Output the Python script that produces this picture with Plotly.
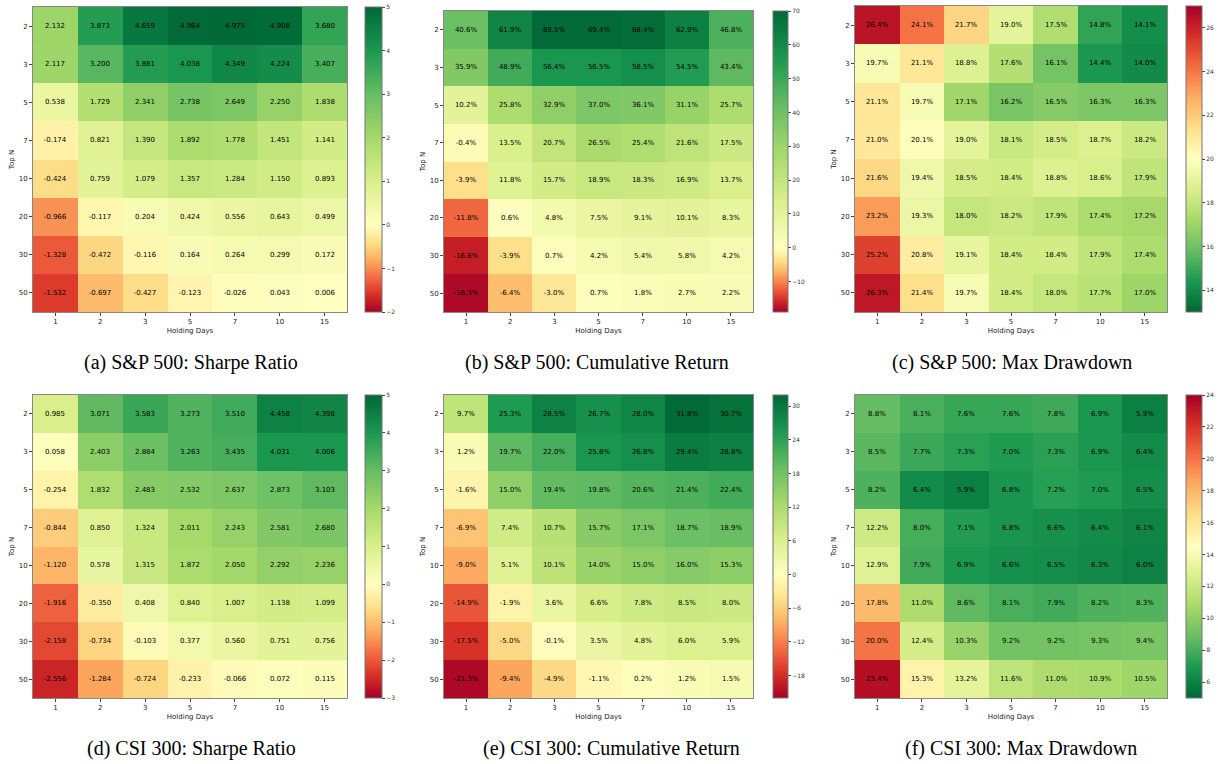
import plotly.graph_objects as go

holding_days = ["1", "2", "3", "5", "7", "10", "15"]
top_n = ["2", "3", "5", "7", "10", "20", "30", "50"]

sp_sharpe = [
    [2.132, 3.873, 4.659, 4.964, 4.975, 4.908, 3.680],
    [2.117, 3.200, 3.881, 4.038, 4.349, 4.224, 3.407],
    [0.538, 1.729, 2.341, 2.738, 2.649, 2.250, 1.838],
    [-0.174, 0.821, 1.390, 1.892, 1.778, 1.451, 1.141],
    [-0.424, 0.759, 1.079, 1.357, 1.284, 1.150, 0.893],
    [-0.966, -0.117, 0.204, 0.424, 0.556, 0.643, 0.499],
    [-1.328, -0.472, -0.116, 0.164, 0.264, 0.299, 0.172],
    [-1.532, -0.697, -0.427, -0.123, -0.026, 0.043, 0.006],
]
sp_cum = [
    [40.6, 61.9, 69.5, 69.4, 68.4, 62.9, 46.8],
    [35.9, 48.9, 56.4, 56.5, 58.5, 54.5, 43.4],
    [10.2, 25.8, 32.9, 37.0, 36.1, 31.1, 25.7],
    [-0.4, 13.5, 20.7, 26.5, 25.4, 21.6, 17.5],
    [-3.9, 11.8, 15.7, 18.9, 18.3, 16.9, 13.7],
    [-11.8, 0.6, 4.8, 7.5, 9.1, 10.1, 8.3],
    [-16.6, -3.9, 0.7, 4.2, 5.4, 5.8, 4.2],
    [-18.3, -6.4, -3.0, 0.7, 1.8, 2.7, 2.2],
]
sp_mdd = [
    [26.4, 24.1, 21.7, 19.0, 17.5, 14.8, 14.1],
    [19.7, 21.1, 18.8, 17.6, 16.1, 14.4, 14.0],
    [21.1, 19.7, 17.1, 16.2, 16.5, 16.3, 16.3],
    [21.0, 20.1, 19.0, 18.1, 18.5, 18.7, 18.2],
    [21.6, 19.4, 18.5, 18.4, 18.8, 18.6, 17.9],
    [23.2, 19.3, 18.0, 18.2, 17.9, 17.4, 17.2],
    [25.2, 20.8, 19.1, 18.4, 18.4, 17.9, 17.4],
    [26.3, 21.4, 19.7, 18.4, 18.0, 17.7, 17.0],
]
csi_sharpe = [
    [0.985, 3.071, 3.583, 3.273, 3.510, 4.458, 4.398],
    [0.058, 2.403, 2.884, 3.263, 3.435, 4.031, 4.006],
    [-0.254, 1.832, 2.483, 2.532, 2.637, 2.873, 3.103],
    [-0.844, 0.850, 1.324, 2.011, 2.243, 2.581, 2.680],
    [-1.120, 0.578, 1.315, 1.872, 2.050, 2.292, 2.236],
    [-1.916, -0.350, 0.408, 0.840, 1.007, 1.138, 1.099],
    [-2.158, -0.734, -0.103, 0.377, 0.560, 0.751, 0.756],
    [-2.556, -1.284, -0.724, -0.233, -0.066, 0.072, 0.115],
]
csi_cum = [
    [9.7, 25.3, 28.5, 26.7, 28.0, 31.8, 30.7],
    [1.2, 19.7, 22.0, 25.8, 26.8, 29.4, 28.8],
    [-1.6, 15.0, 19.4, 19.8, 20.6, 21.4, 22.4],
    [-6.9, 7.4, 10.7, 15.7, 17.1, 18.7, 18.9],
    [-9.0, 5.1, 10.1, 14.0, 15.0, 16.0, 15.3],
    [-14.9, -1.9, 3.6, 6.6, 7.8, 8.5, 8.0],
    [-17.5, -5.0, -0.1, 3.5, 4.8, 6.0, 5.9],
    [-21.3, -9.4, -4.9, -1.1, 0.2, 1.2, 1.5],
]
csi_mdd = [
    [8.8, 8.1, 7.6, 7.6, 7.8, 6.9, 5.9],
    [8.5, 7.7, 7.3, 7.0, 7.3, 6.9, 6.4],
    [8.2, 6.4, 5.9, 6.8, 7.2, 7.0, 6.5],
    [12.2, 8.0, 7.1, 6.8, 6.6, 6.4, 6.1],
    [12.9, 7.9, 6.9, 6.6, 6.5, 6.3, 6.0],
    [17.8, 11.0, 8.6, 8.1, 7.9, 8.2, 8.3],
    [20.0, 12.4, 10.3, 9.2, 9.2, 9.3, 9.4],
    [23.4, 15.3, 13.2, 11.6, 11.0, 10.9, 10.5],
]

captions = [
    "(a) S&P 500: Sharpe Ratio", "(b) S&P 500: Cumulative Return", "(c) S&P 500: Max Drawdown",
    "(d) CSI 300: Sharpe Ratio", "(e) CSI 300: Cumulative Return", "(f) CSI 300: Max Drawdown",
]

RDYLGN = ["#a50026", "#d73027", "#f46d43", "#fdae61", "#fee08b", "#ffffbf",
          "#d9ef8b", "#a6d96a", "#66bd63", "#1a9850", "#006837"]

W, H = 1218, 764


def fx(px):
    return px / W


def fy(py):
    return 1 - py / H


def centered_scale(zmin, zmax, center, reverse=False):
    cols = RDYLGN[::-1] if reverse else RDYLGN
    c = (center - zmin) / (zmax - zmin)
    scale = []
    for i in range(6):
        scale.append([c * i / 5, cols[i]])
    for i in range(1, 6):
        scale.append([c + (1 - c) * i / 5, cols[5 + i]])
    return scale


def linear_scale(reverse=False):
    cols = RDYLGN[::-1] if reverse else RDYLGN
    return [[i / 10, cols[i]] for i in range(11)]


panels = [
    dict(z=sp_sharpe, fmt="{:.3f}", zmin=-2, zmax=5, center=0, rev=False,
         ticks=list(range(-2, 6)), box=(33, 347, 7, 312), cb=(365, 382)),
    dict(z=sp_cum, fmt="{:.1f}%", zmin=-19, zmax=70, center=0, rev=False,
         ticks=list(range(-10, 71, 10)), box=(444, 753, 11, 312), cb=(773, 788)),
    dict(z=sp_mdd, fmt="{:.1f}%", zmin=13, zmax=27, center=None, rev=True,
         ticks=list(range(14, 27, 2)), box=(855, 1167, 6, 312), cb=(1186, 1202)),
    dict(z=csi_sharpe, fmt="{:.3f}", zmin=-3, zmax=5, center=0, rev=False,
         ticks=list(range(-3, 6)), box=(33, 347, 395, 698), cb=(365, 382)),
    dict(z=csi_cum, fmt="{:.1f}%", zmin=-22, zmax=32, center=0, rev=False,
         ticks=list(range(-18, 31, 6)), box=(444, 753, 395, 698), cb=(773, 788)),
    dict(z=csi_mdd, fmt="{:.1f}%", zmin=5, zmax=24, center=None, rev=True,
         ticks=list(range(6, 25, 2)), box=(855, 1167, 395, 698), cb=(1186, 1202)),
]

fig = go.Figure()
layout = dict(
    width=W, height=H, margin=dict(l=0, r=0, t=0, b=0, autoexpand=False),
    paper_bgcolor="white", plot_bgcolor="white", showlegend=False,
    font=dict(family="DejaVu Sans", size=7, color="#222"),
)
annotations = []
cap_x = [191, 597, 1012, 191, 611, 1021]
cap_y = [362, 362, 362, 748, 748, 748]

for i, p in enumerate(panels):
    x0, x1, y0, y1 = p["box"]
    cbx0, cbx1 = p["cb"]
    xa = "x" if i == 0 else f"x{i+1}"
    ya = "y" if i == 0 else f"y{i+1}"
    if p["center"] is None:
        cs = linear_scale(p["rev"])
    else:
        cs = centered_scale(p["zmin"], p["zmax"], p["center"], p["rev"])
    text = [[p["fmt"].format(v) for v in row] for row in p["z"]]
    fig.add_trace(go.Heatmap(
        z=p["z"], x=holding_days, y=top_n, text=text,
        texttemplate="%{text}", textfont=dict(size=7, color="black", family="DejaVu Sans"),
        colorscale=cs, zmin=p["zmin"], zmax=p["zmax"],
        xaxis=xa, yaxis=ya, hoverinfo="skip",
        colorbar=dict(
            x=fx(cbx0), xanchor="left", xpad=0, ypad=0,
            y=fy(y0), yanchor="top", len=(y1 - y0) / H, lenmode="fraction",
            thickness=cbx1 - cbx0, thicknessmode="pixels",
            outlinewidth=1, outlinecolor="#777",
            tickvals=p["ticks"], ticks="outside", ticklen=3, tickwidth=0.8,
            tickcolor="#444", tickfont=dict(size=6, color="#333"),
        ),
    ))
    xkey = "xaxis" if i == 0 else f"xaxis{i+1}"
    ykey = "yaxis" if i == 0 else f"yaxis{i+1}"
    layout[xkey] = dict(
        domain=[fx(x0), fx(x1)], anchor=ya, type="category",
        range=[-0.5, 6.5], showgrid=False, zeroline=False,
        showline=True, mirror=True, linecolor="#888", linewidth=1,
        ticks="outside", ticklen=3, tickcolor="#444", tickwidth=0.8,
        tickfont=dict(size=7, color="#222"), automargin=False,
        title=dict(text="Holding Days", font=dict(size=7, color="#222"), standoff=2),
        fixedrange=True,
    )
    layout[ykey] = dict(
        domain=[fy(y1), fy(y0)], anchor=xa, type="category",
        range=[7.5, -0.5], showgrid=False, zeroline=False,
        showline=True, mirror=True, linecolor="#888", linewidth=1,
        ticks="outside", ticklen=3, tickcolor="#444", tickwidth=0.8,
        tickfont=dict(size=7, color="#222"), automargin=False,
        title=dict(text="Top N", font=dict(size=7, color="#222"), standoff=3),
        fixedrange=True,
    )
    annotations.append(dict(
        text=captions[i], xref="paper", yref="paper",
        x=fx(cap_x[i]), y=fy(cap_y[i]), xanchor="center", yanchor="middle",
        showarrow=False, font=dict(family="Liberation Serif", size=20, color="black"),
    ))

layout["annotations"] = annotations
fig.update_layout(**layout)
fig.write_html(
    "out.html",
    config={"displayModeBar": False},
    post_script="document.body.style.margin='0';document.body.style.overflow='hidden';",
)
